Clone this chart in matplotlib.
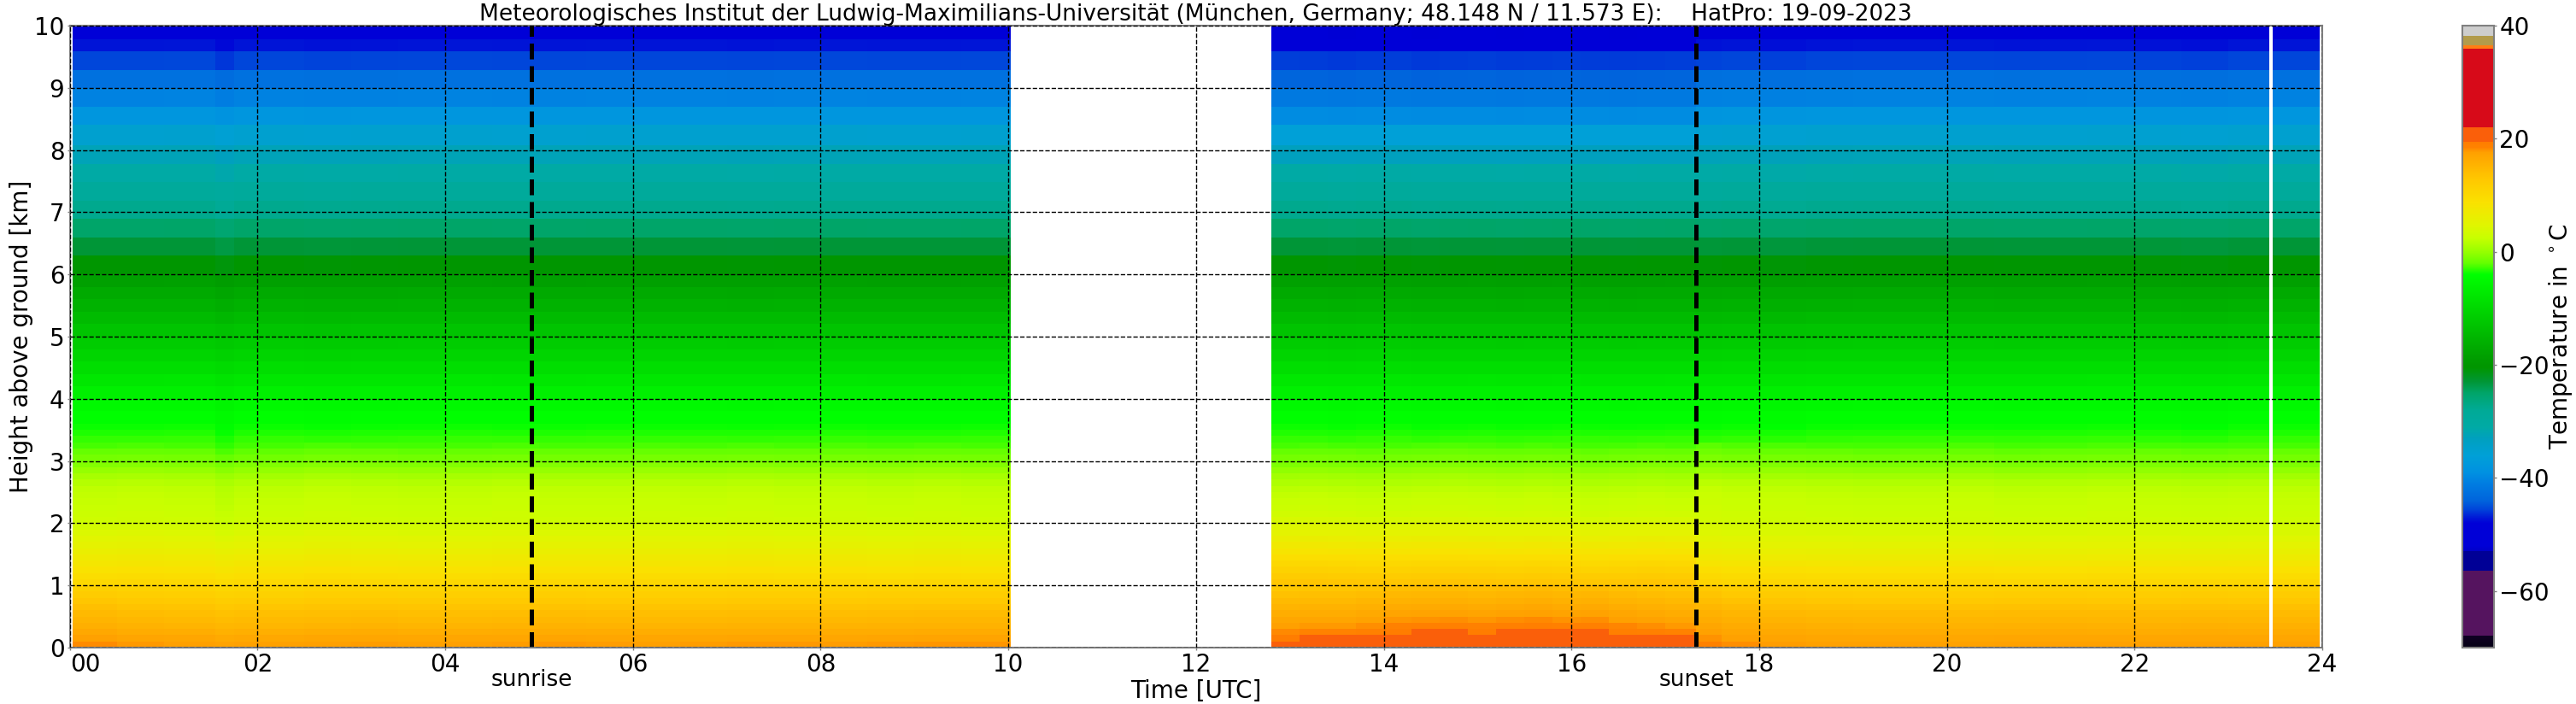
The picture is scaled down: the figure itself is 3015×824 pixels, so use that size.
import numpy as np
import matplotlib
matplotlib.use('Agg')
import matplotlib.pyplot as plt
from matplotlib.colors import LinearSegmentedColormap, Normalize

# colour scale (temperature, rgb), repeated temps are hard steps
cb_temps = [-70, -68, -68, -56.5, -56.5, -53, -53, -52, -48, -47, -45.5, -44, -41, -39, -36,
            -33, -31, -28, -25, -23, -20.5, -20, -4, -2, 0, 2.5, 4.8, 8.8, 12.8, 17.6, 18.5,
            19.5, 19.5, 22, 22, 36, 36, 36.5, 36.5, 38.2, 38.2, 40]
cb_colors = [(5, 0, 20), (15, 0, 35), (85, 20, 95), (85, 20, 95), (0, 0, 150), (0, 0, 150),
             (0, 0, 200), (0, 0, 215), (0, 0, 215), (0, 25, 215), (0, 70, 218), (0, 100, 220),
             (0, 125, 225), (0, 145, 225), (0, 160, 215), (0, 160, 190), (0, 170, 165),
             (0, 170, 150), (0, 165, 105), (0, 150, 55), (0, 150, 0), (0, 150, 0), (0, 255, 0),
             (100, 255, 0), (150, 255, 0), (200, 255, 0), (225, 245, 0), (250, 225, 0),
             (255, 200, 0), (255, 160, 0), (255, 130, 0), (255, 125, 0), (250, 95, 10),
             (250, 95, 10), (215, 10, 25), (215, 10, 25), (255, 125, 20), (255, 125, 20),
             (178, 155, 75), (178, 155, 75), (205, 205, 205), (205, 205, 205)]

# height rows [km]
h_edges = [0, .1, .2, .3, .4, .5, .6, .7, .8, .9, 1, 1.1, 1.2, 1.3, 1.4, 1.5, 1.6, 1.7, 1.8, 1.9,
           2, 2.1, 2.2, 2.3, 2.4, 2.5, 2.6, 2.7, 2.8, 2.9, 3, 3.1, 3.2, 3.3, 3.4, 3.5, 3.6, 3.8,
           4, 4.2, 4.4, 4.6, 4.8, 5, 5.2, 5.4, 5.6, 5.8, 6, 6.3, 6.6, 6.89, 7.18, 7.49, 7.78,
           8.08, 8.4, 8.69, 9, 9.29, 9.59, 9.78, 10]

# temperature profiles bottom to top
low_night = [17.6, 16.8, 16.0, 15.2, 14.6, 14.0, 13.2, 12.4, 11.6, 10.8,
             10.2, 9.4, 8.6, 7.8, 7.0, 6.2, 5.4, 4.8, 4.2, 3.4,
             3.0, 2.8, 2.6, 2.4, 2.2, 2.0, 1.5, 0.8, 0.0, -0.8]
low_day = [21.0, 20.2, 19.1, 18.4, 17.6, 16.8, 16.0, 15.2, 14.4, 13.6,
           13.0, 12.2, 11.2, 10.2, 9.2, 8.2, 7.2, 6.2, 5.2, 4.4,
           3.8, 3.2, 2.8, 2.5, 2.2, 1.8, 1.2, 0.6, -0.2, -1.0]
low_eve = [17.4, 16.8, 16.2, 15.6, 15.0, 14.4, 13.6, 12.8, 12.0, 11.2,
           10.4, 9.6, 8.8, 7.8, 6.8, 6.0, 5.2, 4.6, 4.0, 3.4,
           3.0, 2.8, 2.6, 2.4, 2.2, 1.9, 1.4, 0.6, -0.2, -1.0]
mid_all = [-1.4, -2.0, -2.6, -3.0, -3.4, -3.8, -4.2,
           -5.0, -6.3, -7.6, -9.0, -10.4, -11.8, -13.0, -14.4, -15.8, -17.0, -18.4, -20.5]
top_night = [-23, -25, -27.5, -29, -31, -32.5, -35, -38, -40.5, -42.5, -45.5, -47.2, -50]
top_day = [-23, -25, -27.5, -29, -31, -33, -36, -39.5, -41.5, -44, -45.8, -50, -52]

# time columns of the four measured stretches [h UTC]
t_am = [0.03, 0.5, 1.0, 1.55, 1.75, 2.5, 3, 3.5, 4, 4.5, 5, 5.5, 6, 6.5, 7, 7.5, 8, 8.5, 9, 9.5, 10.03]
t_pm = [12.8, 13.1, 13.4, 13.7, 14.0, 14.3, 14.6, 14.9, 15.2, 15.5, 15.8, 16.1, 16.4, 16.7, 17.0, 17.33]
t_eve = [17.33, 17.6, 18, 18.5, 19, 19.5, 20, 20.5, 21, 21.5, 22, 22.5, 23, 23.44]
t_last = [23.47, 23.97]

# small deviations per column, below 1 km / 1-3.3 km / above
dlow_am = [0.6, 0.2, 0, -0.4, -0.2, 0, 0.1, -0.1, 0, 0.1, 0.2, 0.1, 0, 0.1, 0.2, 0.2, 0.1, 0.2, 0.3, 0.3]
dmid_am = [0, 0.1, 0, -0.5, -0.1, 0.1, 0, -0.1, 0, 0.1, 0, 0, 0.1, 0, 0.1, 0, 0.1, 0, 0.1, 0]
dtop_am = [0, 0, 0.05, -0.5, 0, -0.1, -0.05, 0, 0.05, 0, 0, 0.05, 0, 0, -0.05, 0, 0.05, 0, 0, 0.05]
dlow_pm = [-0.8, -0.6, -0.6, -0.3, 0.3, 0.4, 0.5, 0.3, 0.5, 0.7, 0.4, 0.5, 0, -0.3, -0.6]
dmid_pm = [0, 0.1, 0, -0.1, 0, 0.1, 0.2, 0.1, 0, 0.1, 0, -0.1, 0, 0.1, 0]
dtop_pm = [0.05, 0, -0.1, 0, 0.05, -0.1, 0, 0.05, -0.05, 0, 0.05, 0, -0.05, 0, 0.05]
dlow_eve = [1.2, 0.7, 0.3, 0.1, 0, 0, -0.1, 0, 0.1, 0, 0, 0.1, 0]
dmid_eve = [0.4, 0.2, 0.1, 0, -0.1, 0, 0.1, -0.1, 0, 0.1, 0, -0.1, 0]
dtop_eve = [-0.1, 0, -0.2, -0.05, 0, 0.05, 0, -0.05, 0, 0.05, -0.1, -0.2, 0]
dlow_last = [0.1]
dmid_last = [0]
dtop_last = [0]

x_hours = [0, 2, 4, 6, 8, 10, 12, 14, 16, 18, 20, 22, 24]
x_labels = ['00', '02', '04', '06', '08', '10', '12', '14', '16', '18', '20', '22', '24']
y_ticks = [0, 1, 2, 3, 4, 5, 6, 7, 8, 9, 10]
cb_ticks = [-60, -40, -20, 0, 20, 40]
sunrise = 4.92
sunset = 17.33

title = ('Meteorologisches Institut der Ludwig-Maximilians-Universität '
         '(München, Germany; 48.148 N / 11.573 E):    HatPro: 19-09-2023')

W, H = 3015, 824
fig = plt.figure(figsize=(W / 100, H / 100), dpi=100)
ax = fig.add_axes([81.7 / W, 1 - 758 / H, (2718 - 81.7) / W, 728 / H])
cax = fig.add_axes([2882 / W, 1 - 758 / H, 37 / W, 728 / H])

pos = (np.array(cb_temps) + 70) / 110
cmap = LinearSegmentedColormap.from_list(
    'hatpro', [(p, tuple(v / 255 for v in c)) for p, c in zip(pos, cb_colors)], N=2048)
norm = Normalize(-70, 40)


def field(low, top, dlow, dmid, dtop):
    # one row of temperatures per height, one column per time step
    n_low = 10
    prof = np.array(low + mid_all + top)
    out = np.zeros((len(prof), len(dlow)))
    for c in range(len(dlow)):
        out[:n_low, c] = prof[:n_low] + dlow[c]
        out[n_low:33, c] = prof[n_low:33] + dmid[c]
        out[33:, c] = prof[33:] + dtop[c]
    return out


blocks = [
    (t_am, field(low_night, top_night, dlow_am, dmid_am, dtop_am)),
    (t_pm, field(low_day, top_day, dlow_pm, dmid_pm, dtop_pm)),
    (t_eve, field(low_eve, top_night, dlow_eve, dmid_eve, dtop_eve)),
    (t_last, field(low_eve, top_night, dlow_last, dmid_last, dtop_last)),
]
for t_edges, temps in blocks:
    mesh = ax.pcolormesh(t_edges, h_edges, temps, cmap=cmap, norm=norm, shading='flat')

ax.set_xlim(0, 24)
ax.set_ylim(0, 10)
ax.set_xticks(x_hours)
ax.set_xticklabels(x_labels)
ax.set_yticks(y_ticks)
ax.tick_params(labelsize=20, color='gray', length=2.5, width=1, pad=2)
ax.get_xticklabels()[0].set_ha('left')
ax.grid(True, color='k', linestyle='--', linewidth=1.0)
ax.set_axisbelow(False)
for s in ax.spines.values():
    s.set_color('gray')
    s.set_linewidth(1.5)

ax.axvline(sunrise, color='k', linestyle='--', linewidth=3.6)
ax.axvline(sunset, color='k', linestyle='--', linewidth=3.6)
ax.text(sunrise, -0.052, 'sunrise', transform=ax.get_xaxis_transform(), fontsize=19,
        ha='center', va='center')
ax.text(sunset, -0.052, 'sunset', transform=ax.get_xaxis_transform(), fontsize=19,
        ha='center', va='center')
ax.set_xlabel('Time [UTC]', fontsize=20)
ax.xaxis.set_label_coords(0.5, (758 - 795) / 728)
ax.set_ylabel('Height above ground [km]', fontsize=20)
ax.yaxis.set_label_coords((39 - 81.7) / 2636.3, 0.5)
ax.set_title(title, fontsize=19, pad=3.6)

cb = fig.colorbar(mesh, cax=cax, ticks=cb_ticks)
cb.ax.tick_params(labelsize=20, color='gray', length=2.5, width=1, pad=2)
cb.set_label(r'Temperature in $^\circ$C', fontsize=20)
cb.ax.yaxis.set_label_coords((2981 - 2882) / 37, 0.5)
cb.outline.set_edgecolor('gray')
cb.outline.set_linewidth(1.5)

fig.savefig('out.png', dpi=100)
